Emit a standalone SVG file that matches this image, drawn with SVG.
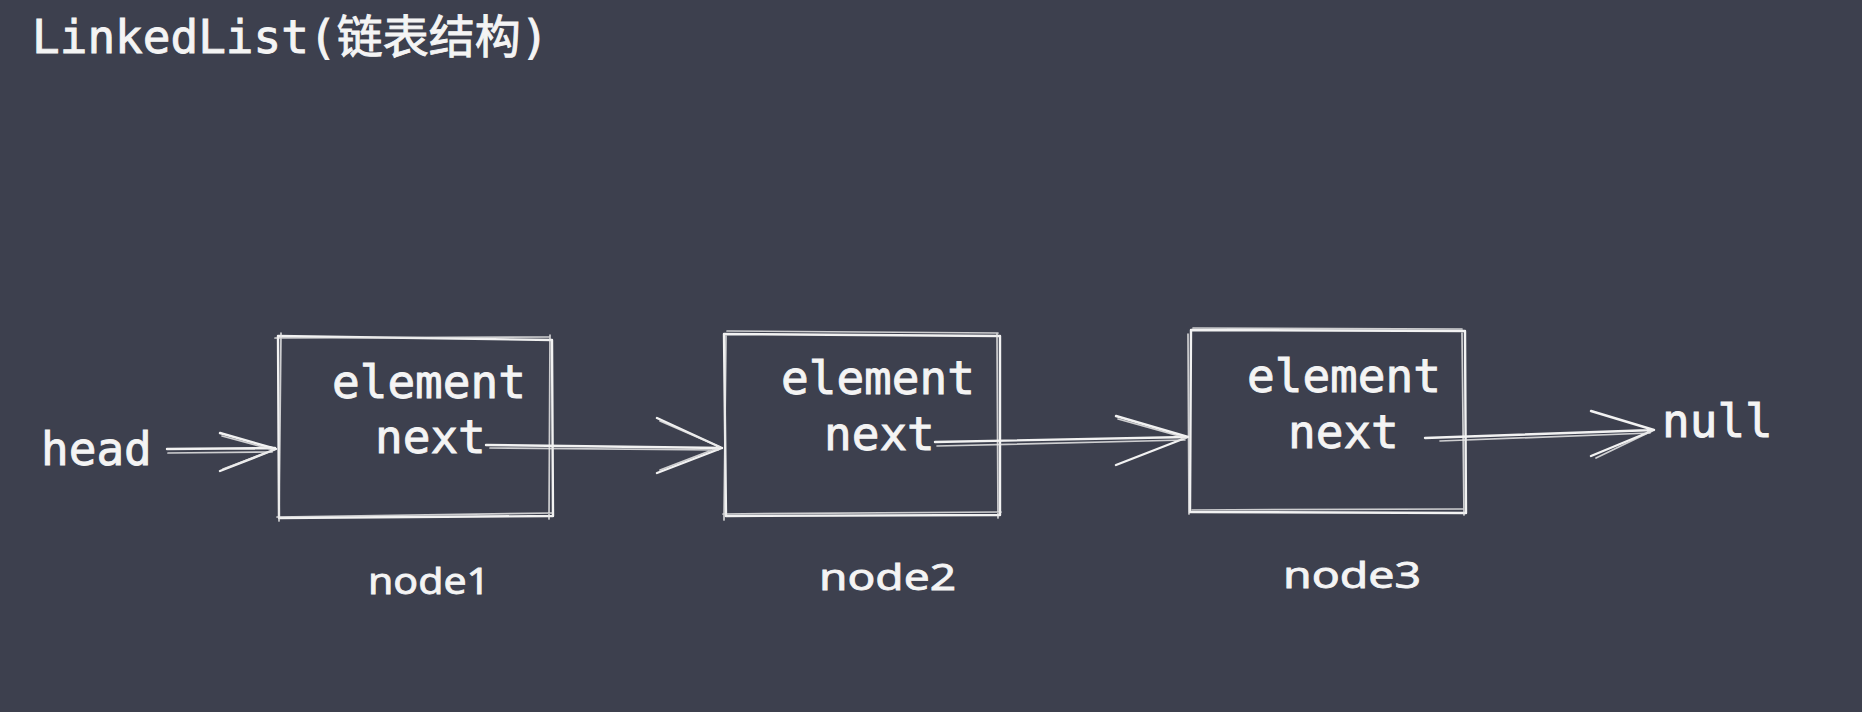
<svg xmlns="http://www.w3.org/2000/svg" width="1862" height="712" viewBox="0 0 1862 712">
<style>
.mono{font-family:"DejaVu Sans Mono","Liberation Mono",monospace;fill:#f4f4f4;stroke:#f4f4f4;stroke-width:0.9;font-size:46px}
.title{font-family:"DejaVu Sans Mono","Noto Sans CJK SC",monospace;fill:#f4f4f4;stroke:#f4f4f4;stroke-width:0.9;font-size:46px}
.hand{font-family:"Noto Sans","Liberation Sans",cursive;fill:#f4f4f4;stroke:#f4f4f4;stroke-width:0.8;font-size:36px}
.sk{fill:none;stroke:#f2f2f2;stroke-width:2.4;stroke-linecap:round;stroke-linejoin:round}
.sk2{fill:none;stroke:#e8e8e8;stroke-width:1.7;stroke-linecap:round;stroke-linejoin:round;opacity:0.85}
</style>
<rect width="1862" height="712" fill="#3d404e"/>
<text class="title" x="32" y="53">LinkedList(链表结构)</text>

<g id="head">
<text class="mono" x="41" y="465">head</text>
</g>

<g id="node1">
<path class="sk" d="M278 336 L552 340 L553 516 L279 518 Z"/>
<path class="sk2" d="M275 338 L549 337 M550 335 L549 519 M553 513 L277 517 M281 333 L279 521"/>
<text class="mono" x="332" y="398">element</text>
<text class="mono" x="375" y="453">next</text>
<text class="hand" x="368" y="594" textLength="122" lengthAdjust="spacingAndGlyphs">node1</text>
</g>

<g id="node2">
<path class="sk" d="M724 334 L1000 336 L1000 515 L726 516 Z"/>
<path class="sk2" d="M727 331 L998 333 M997 334 L998 518 M1001 512 L723 514 M726 336 L724 520"/>
<text class="mono" x="781" y="394">element</text>
<text class="mono" x="824" y="450">next</text>
<text class="hand" x="819" y="590" textLength="137" lengthAdjust="spacingAndGlyphs">node2</text>
</g>

<g id="node3">
<path class="sk" d="M1191 330 L1465 331 L1466 513 L1190 512 Z"/>
<path class="sk2" d="M1193 328 L1462 329 M1462 333 L1464 515 M1463 509 L1192 510 M1188 334 L1189 514"/>
<text class="mono" x="1247" y="392">element</text>
<text class="mono" x="1288" y="448">next</text>
<text class="hand" x="1283" y="588" textLength="138" lengthAdjust="spacingAndGlyphs">node3</text>
</g>

<g id="null">
<text class="mono" x="1662" y="437">null</text>
</g>

<g id="connectors">
<path class="sk" d="M167 449 L275 448 M220 433 L276 449 L220 471"/>
<path class="sk2" d="M168 453 L272 452 M222 436 L274 450 L223 469"/>
<path class="sk" d="M486 445 L722 448 M657 418 L722 448 L657 473"/>
<path class="sk2" d="M490 448 L718 450 M660 421 L720 447 L660 470"/>
<path class="sk" d="M935 442 L1188 437 M1116 416 L1188 437 L1116 465"/>
<path class="sk2" d="M937 446 L1185 440 M1118 419 L1186 438"/>
<path class="sk" d="M1425 438 L1654 430 M1591 411 L1654 430 L1591 456"/>
<path class="sk2" d="M1440 441 L1650 433 M1596 458 L1652 431"/>
</g>
</svg>
